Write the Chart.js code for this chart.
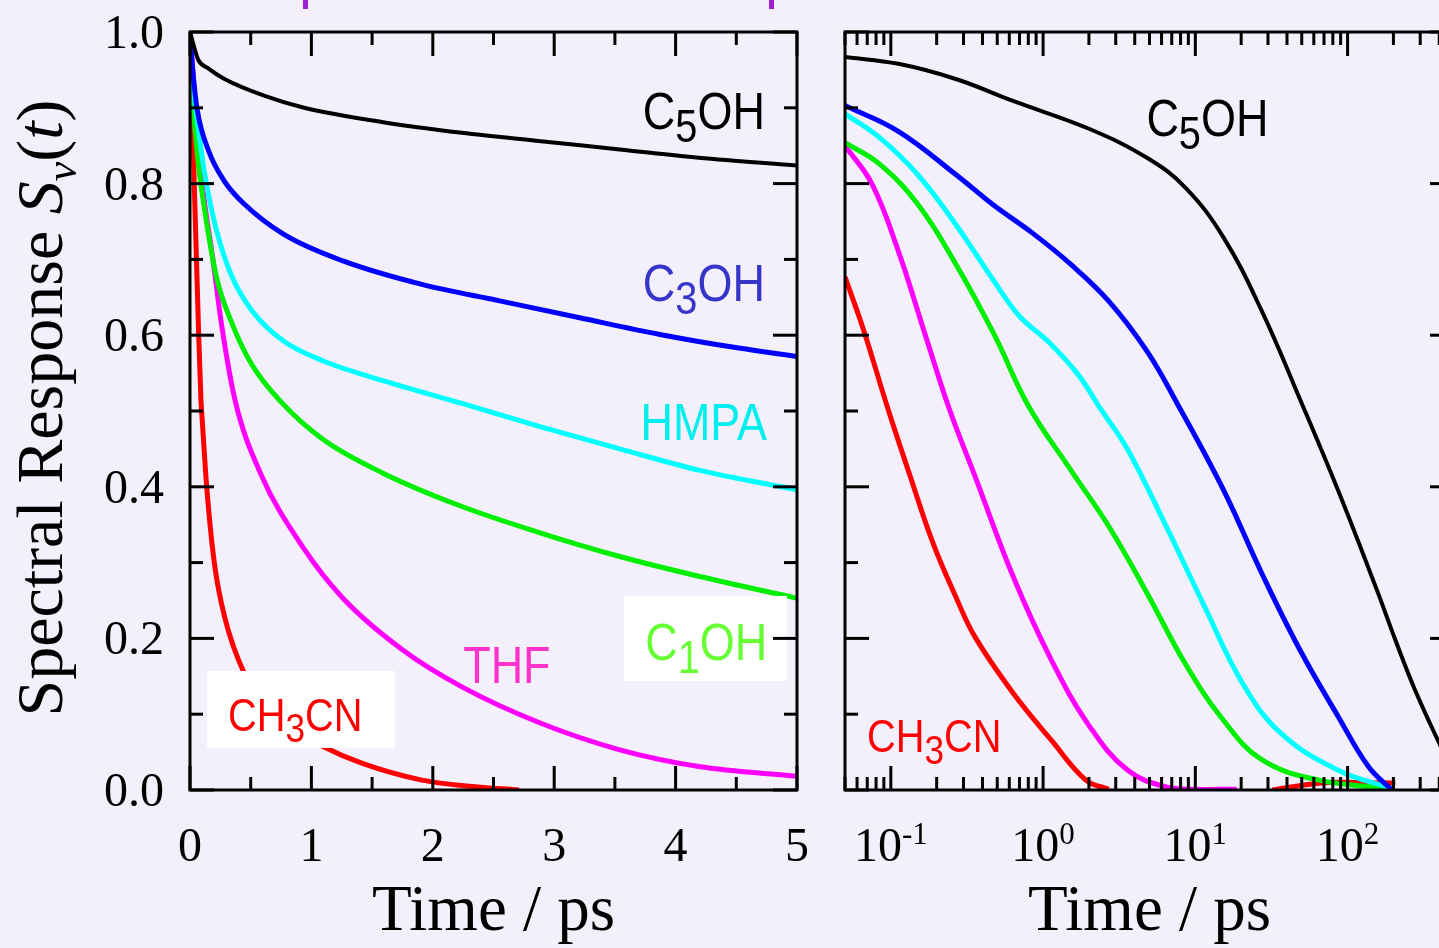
<!DOCTYPE html>
<html>
<head>
<meta charset="utf-8">
<script src="https://cdn.jsdelivr.net/npm/chart.js@4.4.1/dist/chart.umd.min.js"></script>
<style>
  html, body { margin: 0; padding: 0; overflow: hidden; background: #f3f0fc; }
  #wrap { position: relative; width: 1439px; height: 948px; overflow: hidden; background: #f3f0fc; }
  #left { position: absolute; left: 0; top: 0; }
  #right { position: absolute; left: 820px; top: 0; }
  .mark { position: absolute; top: 0; width: 5px; height: 9px; background: #9d1fd6; }
</style>
</head>
<body>
<div id="wrap">
  <canvas id="left" width="820" height="948"></canvas>
  <canvas id="right" width="660" height="948"></canvas>
  <div class="mark" style="left:303px"></div>
  <div class="mark" style="left:769px"></div>
</div>
<script>
// left panel, linear time (ps) -> S(t)
const leftC5OH  = [[0,1],[0.066,0.964],[0.15,0.952],[0.284,0.938],[0.61,0.916],[0.94,0.9],[1.59,0.881],[2.24,0.867],[2.89,0.856],[3.54,0.845],[4.19,0.834],[5,0.824]];
const leftC3OH  = [[0,1],[0.02,0.955],[0.057,0.9],[0.154,0.843],[0.284,0.803],[0.447,0.773],[0.773,0.733],[1.26,0.698],[1.91,0.667],[2.56,0.645],[3.21,0.623],[3.87,0.601],[4.52,0.583],[5,0.572]];
const leftHMPA  = [[0,1],[0.02,0.94],[0.057,0.887],[0.122,0.812],[0.219,0.738],[0.349,0.676],[0.512,0.632],[0.773,0.592],[1.1,0.566],[1.59,0.54],[2.24,0.51],[2.89,0.479],[3.54,0.45],[4.19,0.422],[5,0.396]];
const leftC1OH  = [[0,1],[0.02,0.92],[0.057,0.843],[0.122,0.764],[0.219,0.676],[0.35,0.614],[0.51,0.561],[0.75,0.512],[1.1,0.462],[1.59,0.418],[2.24,0.374],[2.89,0.339],[3.54,0.308],[4.19,0.282],[5,0.253]];
const leftTHF   = [[0,1],[0.05,0.89],[0.1,0.8],[0.187,0.702],[0.26,0.614],[0.37,0.515],[0.58,0.418],[0.94,0.318],[1.26,0.253],[1.75,0.185],[2.24,0.136],[2.89,0.088],[3.54,0.053],[4.19,0.031],[5,0.018]];
const leftCH3CN = [[0,1],[0.035,0.8],[0.069,0.614],[0.09,0.515],[0.1,0.49],[0.137,0.401],[0.2,0.3],[0.284,0.229],[0.447,0.154],[0.7,0.095],[1.1,0.057],[1.42,0.035],[1.91,0.013],[2.3,0.005],[2.71,0]];

// right panel, log time (ps) -> S(t)
const logC5OH  = [[0.05,0.967],[0.112,0.958],[0.267,0.938],[0.635,0.909],[2.02,0.872],[4.81,0.834],[8.57,0.795],[15.3,0.729],[27.3,0.632],[50,0.51],[86.7,0.395],[155,0.265],[206,0.198],[276,0.133],[408,0.058],[500,0.022]];
const logC3OH  = [[0.05,0.903],[0.112,0.869],[0.267,0.812],[0.477,0.771],[0.849,0.735],[1.51,0.694],[2.7,0.645],[4.81,0.579],[7.6,0.51],[15.3,0.396],[27.3,0.286],[48.6,0.185],[86.7,0.097],[137,0.031],[195,0]];
const logHMPA  = [[0.05,0.892],[0.084,0.861],[0.15,0.812],[0.267,0.746],[0.477,0.671],[0.7,0.625],[1.1,0.59],[1.7,0.548],[2.4,0.502],[3.6,0.449],[6.43,0.348],[11.5,0.242],[20.4,0.141],[36.4,0.075],[86.7,0.026],[195,0.002]];
const logC1OH  = [[0.05,0.854],[0.084,0.826],[0.15,0.773],[0.267,0.694],[0.477,0.601],[0.8,0.507],[1.51,0.423],[2.7,0.348],[4.81,0.26],[8.57,0.167],[15.3,0.092],[27.3,0.04],[64.9,0.013],[195,0.002]];
const logTHF   = [[0.05,0.85],[0.075,0.8],[0.112,0.711],[0.168,0.601],[0.24,0.505],[0.357,0.414],[0.635,0.282],[1.13,0.172],[2.02,0.084],[3.6,0.026],[6.43,0.004],[10,0.001],[18.7,0.001]];
const logCH3CN = [[0.05,0.677],[0.0667,0.605],[0.095,0.505],[0.134,0.414],[0.189,0.326],[0.267,0.255],[0.357,0.202],[0.635,0.128],[1.13,0.066],[1.91,0.013],[2.7,0.001],[10,null],[32,0],[65,0.009],[120,0.01],[206,0.009]];

const seriesNames = ['C5OH', 'C3OH', 'HMPA', 'C1OH', 'THF', 'CH3CN'];
const lineColors  = ['#000000', '#0000ff', '#00ffff', '#00ee00', '#ff00ff', '#ff0000'];

// ticks
const linXMajor = [0, 1, 2, 3, 4, 5];
const linXMinor = [0.5, 1.5, 2.5, 3.5, 4.5];
const yMajor = [0, 0.2, 0.4, 0.6, 0.8, 1.0];
const yMinor = [0.1, 0.3, 0.5, 0.7, 0.9];
const yLabels = ['0.0', '0.2', '0.4', '0.6', '0.8', '1.0'];
const logXMajor = [0.1, 1, 10, 100];
const logXExp = ['-1', '0', '1', '2'];
const logXMinor = [0.05, 0.06, 0.07, 0.08, 0.09, 0.2, 0.3, 0.4, 0.5, 0.6, 0.7, 0.8, 0.9,
  2, 3, 4, 5, 6, 7, 8, 9, 20, 30, 40, 50, 60, 70, 80, 90, 200, 300, 400, 500];

// in-plot names (data coordinates of text start / baseline)
const leftLabels = [
  { parts: [['C',0],['5',1],['OH',0]], t: 3.73, s: 0.872, color: '#000000', size: 52 },
  { parts: [['C',0],['3',1],['OH',0]], t: 3.73, s: 0.645, color: '#3535c8', size: 52 },
  { parts: [['HMPA',0]],               t: 3.71, s: 0.462, color: '#00eeee', size: 52 },
  { parts: [['C',0],['1',1],['OH',0]], t: 3.75, s: 0.172, color: '#66ff33', size: 52 },
  { parts: [['THF',0]],                t: 2.25, s: 0.141, color: '#ff33cc', size: 52 },
  { parts: [['CH',0],['3',1],['CN',0]], t: 0.313, s: 0.078, color: '#ff0000', size: 46 }
];
const leftBoxes = [
  { t1: 0.14, t2: 1.689, s1: 0.157, s2: 0.0555 },
  { t1: 3.575, t2: 4.918, s1: 0.256, s2: 0.144 }
];
const rightLabels = [
  { parts: [['C',0],['5',1],['OH',0]], t: 4.77, s: 0.863, color: '#000000', size: 52 },
  { parts: [['CH',0],['3',1],['CN',0]], t: 0.0697, s: 0.05, color: '#ff0000', size: 46 }
];

const SERIF = '"Liberation Serif", "Times New Roman", serif';
const SANS = '"Liberation Sans", Arial, sans-serif';

function toXY(arr) { return arr.map(p => ({ x: p[0], y: p[1] })); }

function makeDatasets(list, smooth) {
  return list.map((arr, i) => Object.assign({
    label: seriesNames[i],
    data: toXY(arr),
    borderColor: lineColors[i],
    borderWidth: i === 0 ? 4 : 5,
    pointRadius: 0,
    fill: false,
    spanGaps: false
  }, smooth));
}

function drawFrame(chart, xMaj, xMin) {
  const { ctx, chartArea: a, scales: { x, y } } = chart;
  ctx.save();
  ctx.strokeStyle = '#000';
  ctx.lineWidth = 3;
  ctx.lineCap = 'butt';
  ctx.strokeRect(a.left, a.top, a.right - a.left, a.bottom - a.top);
  const seg = (x1, y1, x2, y2) => { ctx.beginPath(); ctx.moveTo(x1, y1); ctx.lineTo(x2, y2); ctx.stroke(); };
  [[xMaj, 24], [xMin, 13]].forEach(([vals, len]) => vals.forEach(v => {
    const px = x.getPixelForValue(v);
    seg(px, a.top, px, a.top + len);
    seg(px, a.bottom, px, a.bottom - len);
  }));
  [[yMajor, 24], [yMinor, 13]].forEach(([vals, len]) => vals.forEach(v => {
    const py = y.getPixelForValue(v);
    seg(a.left, py, a.left + len, py);
    seg(a.right, py, a.right - len, py);
  }));
  ctx.restore();
}

function drawName(chart, lab) {
  const { ctx, scales: { x, y } } = chart;
  ctx.save();
  ctx.translate(x.getPixelForValue(lab.t), y.getPixelForValue(lab.s));
  ctx.scale(0.865, 1);
  ctx.fillStyle = lab.color;
  ctx.textAlign = 'left';
  ctx.textBaseline = 'alphabetic';
  let cx = 0;
  lab.parts.forEach(([txt, sub]) => {
    const sz = sub ? lab.size * 0.885 : lab.size;
    ctx.font = sz + 'px ' + SANS;
    ctx.fillText(txt, cx, sub ? lab.size * 0.25 : 0);
    cx += ctx.measureText(txt).width;
  });
  ctx.restore();
}

function drawBoxes(chart, boxes) {
  const { ctx, scales: { x, y } } = chart;
  ctx.save();
  ctx.fillStyle = '#ffffff';
  boxes.forEach(b => {
    const x1 = x.getPixelForValue(b.t1), x2 = x.getPixelForValue(b.t2);
    const y1 = y.getPixelForValue(b.s1), y2 = y.getPixelForValue(b.s2);
    ctx.fillRect(x1, y1, x2 - x1, y2 - y1);
  });
  ctx.restore();
}

function drawXTitle(chart) {
  const { ctx, chartArea: a } = chart;
  ctx.save();
  ctx.fillStyle = '#000';
  ctx.font = '65px ' + SERIF;
  ctx.textAlign = 'center';
  ctx.textBaseline = 'alphabetic';
  ctx.fillText('Time / ps', (a.left + a.right) / 2, 930);
  ctx.restore();
}

function drawYTitle(chart) {
  const { ctx, chartArea: a } = chart;
  const parts = [
    ['Spectral Response ', '', 66, 0],
    ['S', 'italic ', 66, 0],
    ['\u03bd', 'italic ', 44, 14],
    ['(', '', 66, 0],
    ['t', 'italic ', 66, 0],
    [')', '', 66, 0]
  ];
  ctx.save();
  ctx.translate(62, (a.top + a.bottom) / 2 - 3);
  ctx.rotate(-Math.PI / 2);
  ctx.fillStyle = '#000';
  ctx.textAlign = 'left';
  ctx.textBaseline = 'alphabetic';
  let total = 0;
  parts.forEach(p => { ctx.font = p[1] + p[2] + 'px ' + SERIF; total += ctx.measureText(p[0]).width; });
  let cx = -total / 2;
  parts.forEach(p => {
    ctx.font = p[1] + p[2] + 'px ' + SERIF;
    ctx.fillText(p[0], cx, p[3]);
    cx += ctx.measureText(p[0]).width;
  });
  ctx.restore();
}

function drawLinTickLabels(chart) {
  const { ctx, chartArea: a, scales: { x, y } } = chart;
  ctx.save();
  ctx.fillStyle = '#000';
  ctx.font = '48px ' + SERIF;
  ctx.textBaseline = 'alphabetic';
  ctx.textAlign = 'center';
  linXMajor.forEach(v => ctx.fillText(String(v), x.getPixelForValue(v), 861));
  ctx.textAlign = 'right';
  yMajor.forEach((v, i) => ctx.fillText(yLabels[i], a.left - 26, y.getPixelForValue(v) + 16));
  ctx.restore();
}

function drawLogTickLabels(chart) {
  const { ctx, scales: { x } } = chart;
  ctx.save();
  ctx.fillStyle = '#000';
  ctx.textAlign = 'left';
  ctx.textBaseline = 'alphabetic';
  logXMajor.forEach((v, i) => {
    ctx.font = '48px ' + SERIF;
    const w1 = ctx.measureText('10').width;
    ctx.font = '31px ' + SERIF;
    const w2 = ctx.measureText(logXExp[i]).width;
    const start = x.getPixelForValue(v) - (w1 + w2) / 2;
    ctx.font = '48px ' + SERIF;
    ctx.fillText('10', start, 861);
    ctx.font = '31px ' + SERIF;
    ctx.fillText(logXExp[i], start + w1, 844);
  });
  ctx.restore();
}

const leftDecor = {
  id: 'leftDecor',
  afterDatasetsDraw(chart) {
    drawBoxes(chart, leftBoxes);
    drawFrame(chart, linXMajor, linXMinor);
    leftLabels.forEach(l => drawName(chart, l));
    drawLinTickLabels(chart);
    drawXTitle(chart);
    drawYTitle(chart);
  }
};

const rightDecor = {
  id: 'rightDecor',
  afterDatasetsDraw(chart) {
    drawFrame(chart, logXMajor, logXMinor);
    rightLabels.forEach(l => drawName(chart, l));
    drawLogTickLabels(chart);
    drawXTitle(chart);
  }
};

const common = {
  responsive: false,
  animation: false,
  events: [],
  plugins: { legend: { display: false }, tooltip: { enabled: false } }
};

new Chart(document.getElementById('left'), {
  type: 'line',
  data: { datasets: makeDatasets([leftC5OH, leftC3OH, leftHMPA, leftC1OH, leftTHF, leftCH3CN], { cubicInterpolationMode: 'monotone' }) },
  options: Object.assign({}, common, {
    layout: { padding: { left: 190, top: 32, right: 23, bottom: 158 } },
    scales: {
      x: { type: 'linear', min: 0, max: 5, display: false },
      y: { type: 'linear', min: 0, max: 1, display: false }
    }
  }),
  plugins: [leftDecor]
});

new Chart(document.getElementById('right'), {
  type: 'line',
  data: { datasets: makeDatasets([logC5OH, logC3OH, logHMPA, logC1OH, logTHF, logCH3CN], { tension: 0.4 }) },
  options: Object.assign({}, common, {
    layout: { padding: { left: 25, top: 32, right: 26, bottom: 158 } },
    scales: {
      x: { type: 'logarithmic', min: 0.05, max: 500, display: false },
      y: { type: 'linear', min: 0, max: 1, display: false }
    }
  }),
  plugins: [rightDecor]
});
</script>
</body>
</html>
